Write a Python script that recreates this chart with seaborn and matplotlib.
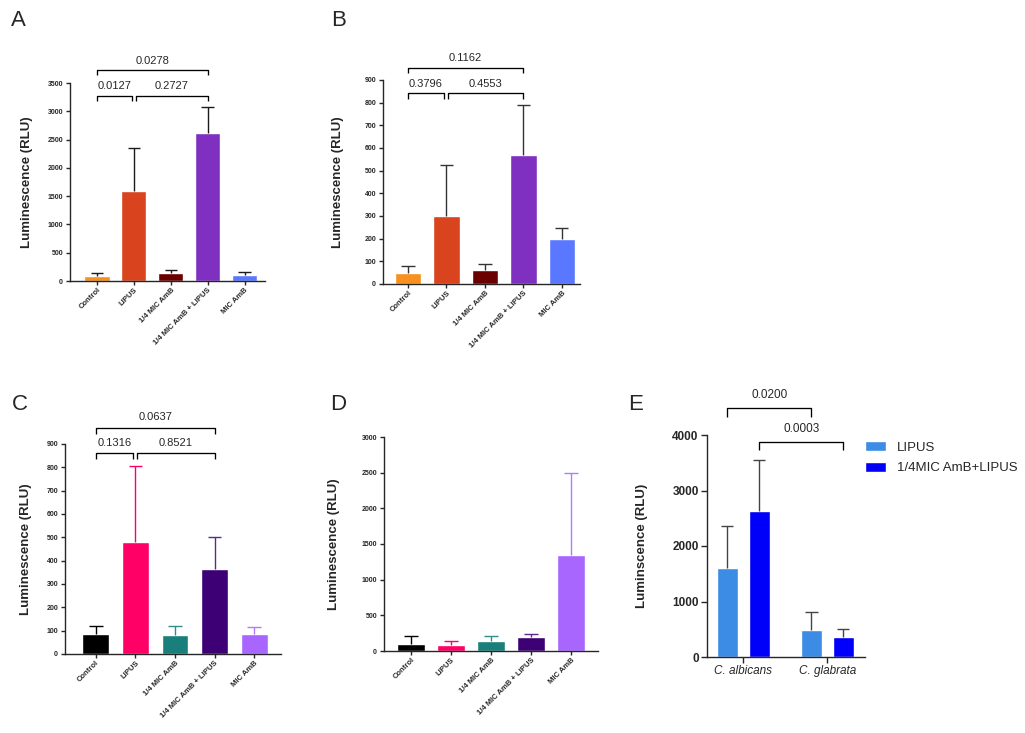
import numpy as np
import pandas as pd
import matplotlib
matplotlib.use("Agg")
import matplotlib.pyplot as plt
import seaborn as sns

# ---- data ----
groups = ["Control", "LIPUS", "1/4 MIC AmB", "1/4 MIC AmB + LIPUS", "MIC AmB"]

a_mean = [95, 1590, 140, 2615, 110]
a_sd = [40, 765, 60, 465, 55]
b_mean = [50, 300, 60, 570, 198]
b_sd = [28, 225, 28, 220, 49]
c_mean = [85, 478, 82, 365, 85]
c_sd = [37, 327, 36, 135, 30]
d_mean = [100, 90, 140, 195, 1350]
d_sd = [110, 55, 70, 45, 1150]

species = ["C. albicans", "C. glabrata"]
treatments = ["LIPUS", "1/4MIC AmB+LIPUS"]
e_lipus_mean = [1600, 480]
e_lipus_sd = [760, 330]
e_combo_mean = [2630, 360]
e_combo_sd = [920, 140]

# p-values for the comparison brackets
a_p = ["0.0127", "0.2727", "0.0278"]
b_p = ["0.3796", "0.4553", "0.1162"]
c_p = ["0.1316", "0.8521", "0.0637"]
e_p = ["0.0200", "0.0003"]

colors_ab = ["#F7901E", "#D9441E", "#6B0000", "#7F30C0", "#5A78FF"]
colors_cd = ["#000000", "#FF0066", "#1A7F7A", "#3D0075", "#A866FF"]
err_cd = ["#000000", "#FF0066", "#2E8F8A", "#5A2A8A", "#B07CFF"]
colors_e = ["#3C8CE6", "#0000FA"]

sns.set_style("ticks")
plt.rcParams["font.family"] = ["Liberation Sans", "DejaVu Sans"]
plt.rcParams["axes.linewidth"] = 1.0

W, H = 1025, 733
fig = plt.figure(figsize=(W / 100, H / 100), dpi=100)


def px_axes(left, top, right, bottom):
    return fig.add_axes([left / W, 1 - bottom / H, (right - left) / W, (bottom - top) / H])


def upper_err(ax, xs, means, sds, colors, cw):
    # only the upper half of the SD, like the GraphPad style
    tops = np.asarray(means) + np.asarray(sds)
    ax.vlines(xs, means, tops, colors=colors, lw=1.0, zorder=1)
    ax.hlines(tops, np.asarray(xs) - cw, np.asarray(xs) + cw, colors=colors, lw=1.0, zorder=1)


def bracket(ax, x1, x2, y, drop, text, ty, fs=8):
    ax.plot([x1, x1, x2, x2], [y - drop, y, y, y - drop], color="black", lw=0.95,
            clip_on=False, solid_capstyle="butt")
    ax.text((x1 + x2) / 2, ty, text, ha="center", va="center", fontsize=fs, clip_on=False)


def group_panel(ax, means, sds, colors, ecolors, ymax, ystep, xlim, label_x):
    df = pd.DataFrame({"group": groups, "value": means})
    sns.barplot(data=df, x="group", y="value", hue="group", palette=colors,
                legend=False, width=0.68, errorbar=None, saturation=1, ax=ax)
    xs = np.arange(len(groups))
    upper_err(ax, xs, means, sds, ecolors, 0.17)
    ax.set_ylim(0, ymax)
    ax.set_xlim(*xlim)
    ax.set_yticks(np.arange(0, ymax + 1, ystep))
    ax.set_xlabel("")
    ax.set_ylabel("Luminescence (RLU)", fontsize=9.5, fontweight="bold")
    ax.yaxis.set_label_coords(label_x, 0.5)
    ax.tick_params(axis="y", labelsize=5, width=1, length=3, pad=2)
    ax.tick_params(axis="x", labelsize=5.5, width=1, length=3, pad=1)
    for t in ax.get_yticklabels():
        t.set_fontweight("bold")
    ax.set_xticks(xs)
    ax.set_xticklabels(groups, rotation=45, ha="right", rotation_mode="anchor", fontweight="bold")
    sns.despine(ax=ax)
    return xs


# ---- A ----
axA = px_axes(70, 83, 265, 281)
group_panel(axA, a_mean, a_sd, colors_ab, "#1A1A1A", 3500, 500, (-0.73, 4.55), -0.19)
bracket(axA, 0, 0.95, 3270, 90, a_p[0], 3450)
bracket(axA, 1.05, 3, 3270, 90, a_p[1], 3450)
bracket(axA, 0, 3, 3730, 90, a_p[2], 3890)

# ---- B ----
axB = px_axes(383, 80, 580, 284)
group_panel(axB, b_mean, b_sd, colors_ab, "#333333", 900, 100, (-0.65, 4.47), -0.20)
bracket(axB, 0, 0.93, 844, 27, b_p[0], 884)
bracket(axB, 1.04, 3, 844, 27, b_p[1], 884)
bracket(axB, 0, 3, 952, 20, b_p[2], 996)

# ---- C ----
axC = px_axes(65, 444, 281, 654)
group_panel(axC, c_mean, c_sd, colors_cd, err_cd, 900, 100, (-0.78, 4.68), -0.153)
bracket(axC, 0, 0.95, 860, 26, c_p[0], 903)
bracket(axC, 1.05, 3, 860, 26, c_p[1], 903)
bracket(axC, 0, 3, 970, 27, c_p[2], 1014)

# ---- D ----
axD = px_axes(384, 437, 598, 651)
group_panel(axD, d_mean, d_sd, colors_cd, err_cd, 3000, 500, (-0.675, 4.675), -0.205)

# ---- E ----
axE = px_axes(707, 435, 865, 657)
edf = pd.DataFrame({
    "species": species * 2,
    "treatment": [treatments[0]] * 2 + [treatments[1]] * 2,
    "value": e_lipus_mean + e_combo_mean,
})
sns.barplot(data=edf, x="species", y="value", hue="treatment", hue_order=treatments,
            palette=colors_e, width=0.76, gap=0.34, errorbar=None, saturation=1, ax=axE)
centers = []
for cont, sd in zip(axE.containers, [e_lipus_sd, e_combo_sd]):
    xs = np.array([b.get_x() + b.get_width() / 2 for b in cont])
    ys = np.array([b.get_height() for b in cont])
    upper_err(axE, xs, ys, sd, "#444444", 0.075)
    centers.append(xs)
axE.set_ylim(0, 4000)
axE.set_xlim(-0.43, 1.45)
axE.set_yticks([0, 1000, 2000, 3000, 4000])
axE.set_xlabel("")
axE.set_ylabel("Luminscence (RLU)", fontsize=9.5, fontweight="bold")
axE.yaxis.set_label_coords(-0.373, 0.5)
axE.tick_params(axis="y", labelsize=8.5, width=1, length=4, pad=2)
axE.tick_params(axis="x", labelsize=8.5, width=1, length=4, pad=2)
for t in axE.get_yticklabels():
    t.set_fontweight("bold")
for t in axE.get_xticklabels():
    t.set_fontstyle("italic")
sns.despine(ax=axE)
bracket(axE, centers[0][0], centers[0][1], 4486, 160, e_p[0], 4720, fs=8.5)
bracket(axE, centers[1][0], centers[1][1], 3874, 145, e_p[1], 4108, fs=8.5)
axE.legend(loc="upper left", bbox_to_anchor=(860 / W, 1 - 436 / H), bbox_transform=fig.transFigure,
           frameon=False, fontsize=9.5, handlelength=1.6, handleheight=0.8,
           handletextpad=0.8, labelspacing=0.6, borderaxespad=0)

# panel letters
for letter, (x, y) in zip("ABCDE", [(18, 20), (339, 20), (20, 405), (338, 405), (636, 405)]):
    fig.text(x / W, 1 - y / H, letter, fontsize=16, ha="center", va="center")

fig.savefig("out.png", dpi=100)
